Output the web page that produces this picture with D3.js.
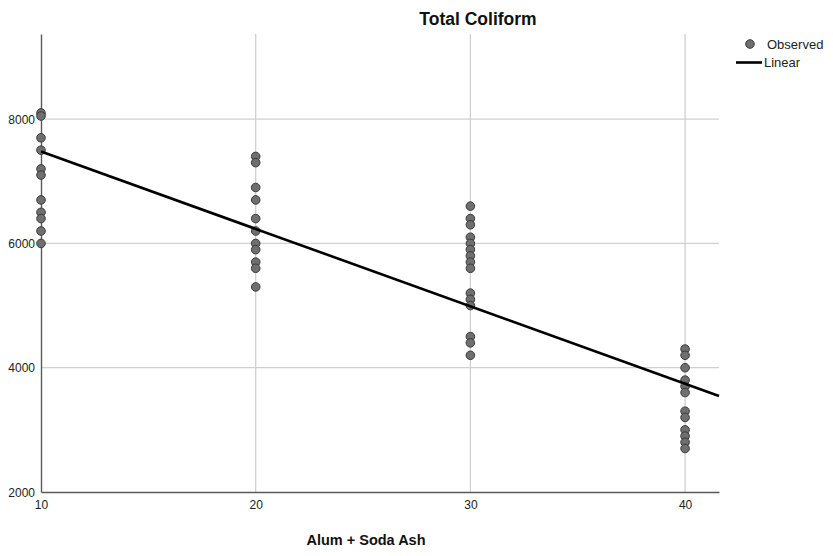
<!DOCTYPE html>
<html>
<head>
<meta charset="utf-8">
<script src="https://cdn.jsdelivr.net/npm/d3@7"></script>
<style>
  html, body { margin: 0; padding: 0; background: #fff; }
  svg { display: block; font-family: "Liberation Sans", Arial, sans-serif; }
</style>
</head>
<body>
<svg id="chart" width="833" height="556"></svg>
<script>
// Dose groups (Alum + Soda Ash) and observed Total Coliform counts per group
const doses = [10, 20, 30, 40];
const coliformAt10 = [8100, 8050, 7700, 7500, 7200, 7100, 6700, 6500, 6400, 6200, 6000];
const coliformAt20 = [7400, 7300, 6900, 6700, 6400, 6200, 6000, 5900, 5700, 5600, 5300];
const coliformAt30 = [6600, 6400, 6300, 6100, 6000, 5900, 5800, 5700, 5600, 5200, 5100, 5000, 4500, 4400, 4200];
const coliformAt40 = [4300, 4200, 4000, 3800, 3700, 3600, 3300, 3200, 3000, 2900, 2800, 2700];

// Linear fit: [intercept, slope]
const linearFit = [8726, -124.6];

// Axis ticks
const xTicks = [10, 20, 30, 40];
const yTicks = [2000, 4000, 6000, 8000];

const groups = [coliformAt10, coliformAt20, coliformAt30, coliformAt40];
const points = [];
doses.forEach((d, i) => groups[i].forEach(v => points.push({ x: d, y: v })));

const svg = d3.select("#chart");

const plotLeft = 41, plotRight = 719, plotTop = 34, plotBottom = 492;
const x = d3.scaleLinear().domain([10, 41.58]).range([plotLeft, plotRight]);
const y = d3.scaleLinear().domain([2000, 9370]).range([plotBottom, plotTop]);

// Gridlines
svg.append("g")
  .selectAll("line")
  .data(xTicks.filter(t => t !== 10))
  .join("line")
  .attr("x1", d => x(d)).attr("x2", d => x(d))
  .attr("y1", plotTop).attr("y2", plotBottom)
  .attr("stroke", "#d0d0d0").attr("stroke-width", 1.3);

svg.append("g")
  .selectAll("line")
  .data(yTicks.filter(t => t !== 2000))
  .join("line")
  .attr("x1", plotLeft).attr("x2", plotRight)
  .attr("y1", d => y(d)).attr("y2", d => y(d))
  .attr("stroke", "#d0d0d0").attr("stroke-width", 1.3);

// Axes
const xAxis = d3.axisBottom(x).tickValues(xTicks).tickSize(0).tickPadding(8).tickFormat(d3.format("d"));
const yAxis = d3.axisLeft(y).tickValues(yTicks).tickSize(0).tickPadding(6).tickFormat(d3.format("d"));

const gx = svg.append("g").attr("transform", `translate(0,${plotBottom})`).call(xAxis);
const gy = svg.append("g").attr("transform", `translate(${plotLeft},0)`).call(yAxis);

[gx, gy].forEach(g => {
  g.select(".domain").attr("stroke", "#5a5a5a").attr("stroke-width", 1.4);
  g.selectAll("text").attr("fill", "#222").attr("font-size", 12)
    .attr("font-family", "'Liberation Sans', Arial, sans-serif");
});
gy.selectAll("text").attr("dy", "0.34em");

// Observed points
svg.append("g")
  .selectAll("circle")
  .data(points)
  .join("circle")
  .attr("cx", d => x(d.x))
  .attr("cy", d => y(d.y))
  .attr("r", 4.3)
  .attr("fill", "#6f6f6f")
  .attr("stroke", "#3a3a3a")
  .attr("stroke-width", 1);

// Fitted line
const fx = x.domain();
svg.append("line")
  .attr("x1", x(fx[0])).attr("y1", y(linearFit[0] + linearFit[1] * fx[0]))
  .attr("x2", x(fx[1])).attr("y2", y(linearFit[0] + linearFit[1] * fx[1]))
  .attr("stroke", "#000").attr("stroke-width", 2.6);

// Title
svg.append("text")
  .attr("x", 478).attr("y", 25)
  .attr("text-anchor", "middle")
  .attr("font-weight", "bold").attr("font-size", 17.5)
  .attr("fill", "#111")
  .text("Total Coliform");

// X axis title
svg.append("text")
  .attr("x", 366).attr("y", 545)
  .attr("text-anchor", "middle")
  .attr("font-weight", "bold").attr("font-size", 14.5)
  .attr("fill", "#111")
  .text("Alum + Soda Ash");

// Legend
const lg = svg.append("g");
lg.append("circle").attr("cx", 750).attr("cy", 44).attr("r", 4.3)
  .attr("fill", "#6f6f6f").attr("stroke", "#3a3a3a").attr("stroke-width", 1);
lg.append("text").attr("x", 767).attr("y", 44).attr("dy", "0.35em")
  .attr("font-size", 13).attr("fill", "#222").text("Observed");
lg.append("line").attr("x1", 736).attr("x2", 762).attr("y1", 62.5).attr("y2", 62.5)
  .attr("stroke", "#000").attr("stroke-width", 2.6);
lg.append("text").attr("x", 764).attr("y", 62.5).attr("dy", "0.35em")
  .attr("font-size", 13).attr("fill", "#222").text("Linear");
</script>
</body>
</html>
